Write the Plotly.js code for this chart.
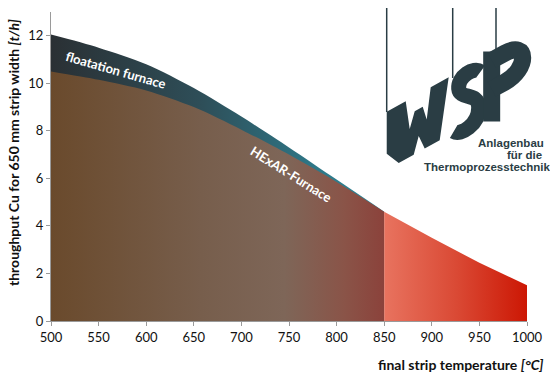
<!DOCTYPE html>
<html>
<head>
<meta charset="utf-8">
<script src="https://cdn.plot.ly/plotly-3.0.1.min.js"></script>
<style>html,body{margin:0;padding:0;background:#fff;}#chart{width:550px;height:375px;}</style>
</head>
<body>
<div id="chart"></div>
<script>
// ---- data ----
const temps = [500, 550, 600, 650, 700, 750, 800, 850];
const floatationThroughput = [12.05, 11.5, 10.8, 9.8, 8.6, 7.3, 5.95, 4.6];
const hexarThroughput = [10.5, 10.15, 9.7, 9.0, 8.05, 7.0, 5.85, 4.6];
const hotTemps = [850, 900, 950, 1000];
const hotThroughput = [4.6, 3.5, 2.45, 1.5];
const xTicks = [500, 550, 600, 650, 700, 750, 800, 850, 900, 950, 1000];
const yTicks = [0, 2, 4, 6, 8, 10, 12];

// ---- geometry helpers (pixel -> paper) ----
const L = 51, R = 23, T = 12, B = 54, W = 550, H = 375;
const pw = W - L - R, ph = H - T - B;
function px2x(px) { return (px - L) / pw; }
function py2y(py) { return (H - B - py) / ph; }
function sh(u, v) {
  const px = 386.7 + u, py = 111.7 + v - 0.555 * u;
  return px2x(px).toFixed(4) + ',' + py2y(py).toFixed(4);
}
function poly(pts) {
  return 'M' + pts.map(p => sh(p[0], p[1])).join(' L') + ' Z';
}
const logoColor = '#2a3d44';

const traces = [
  {
    x: temps, y: floatationThroughput, type: 'scatter', mode: 'lines',
    line: {width: 0, shape: 'spline', smoothing: 0.8}, fill: 'tozeroy',
    fillgradient: {type: 'horizontal', start: 500, stop: 850,
      colorscale: [[0, '#2a3034'], [0.45, '#2e4e58'], [0.8, '#2e7888'], [1, '#2f8595']]},
    hoverinfo: 'skip', showlegend: false
  },
  {
    x: temps, y: hexarThroughput, type: 'scatter', mode: 'lines',
    line: {width: 0, shape: 'spline', smoothing: 0.8}, fill: 'tozeroy',
    fillgradient: {type: 'horizontal', start: 500, stop: 850,
      colorscale: [[0, '#6a4a2c'], [0.45, '#775e4c'], [0.7, '#7e6658'], [0.88, '#8a5448'], [1, '#8b423b']]},
    hoverinfo: 'skip', showlegend: false
  },
  {
    x: hotTemps, y: hotThroughput, type: 'scatter', mode: 'lines',
    line: {width: 0}, fill: 'tozeroy',
    fillgradient: {type: 'horizontal', start: 850, stop: 1000,
      colorscale: [[0, '#e8735f'], [0.5, '#da4a35'], [1, '#cc1704']]},
    hoverinfo: 'skip', showlegend: false
  }
];

const wOutline = [[0, 0], [19, 0], [23, 30], [28, 15], [36, 15], [40, 30], [44, 0], [62, 0], [53, 58], [38, 58], [32, 42], [27, 58], [12, 58], [0, 42]];

const shapes = [
  {type: 'line', xref: 'paper', yref: 'paper', x0: px2x(386.7), x1: px2x(386.7), y0: py2y(8), y1: py2y(112), line: {color: logoColor, width: 1.5}},
  {type: 'line', xref: 'paper', yref: 'paper', x0: px2x(452.7), x1: px2x(452.7), y0: py2y(8), y1: py2y(78), line: {color: logoColor, width: 1.5}},
  {type: 'line', xref: 'paper', yref: 'paper', x0: px2x(496), x1: px2x(496), y0: py2y(8), y1: py2y(56), line: {color: logoColor, width: 1.5}},
  // W (filled polygon)
  {type: 'path', xref: 'paper', yref: 'paper', path: poly(wOutline), fillcolor: logoColor, line: {width: 0}},
  // S
  {type: 'path', xref: 'paper', yref: 'paper', path: 'M' + sh(94, 12) + ' C' + sh(87, 3) + ' ' + sh(71, 4) + ' ' + sh(72, 17) + ' C' + sh(73, 29) + ' ' + sh(92, 31) + ' ' + sh(92, 47) + ' C' + sh(92, 64) + ' ' + sh(74, 65) + ' ' + sh(67, 57), line: {color: logoColor, width: 15}},
  // P stem
  {type: 'path', xref: 'paper', yref: 'paper', path: 'M' + sh(105, -2) + ' L' + sh(105, 68), line: {color: logoColor, width: 17}},
  // P bowl
  {type: 'path', xref: 'paper', yref: 'paper', path: 'M' + sh(105, 7) + ' L' + sh(118, 7) + ' C' + sh(142, 7) + ' ' + sh(142, 36) + ' ' + sh(118, 36) + ' L' + sh(105, 36), line: {color: logoColor, width: 17}}
];

const logoFont = {family: '"Liberation Sans Narrow", "Liberation Sans", Arial, sans-serif', size: 11.5, color: logoColor, weight: 'bold'};
function logoLine(txt, cx, py) {
  return {xref: 'paper', yref: 'paper', x: px2x(cx), y: py2y(py), text: txt, showarrow: false,
    xanchor: 'center', yanchor: 'middle', font: logoFont};
}
const annotations = [
  {xref: 'paper', yref: 'paper', x: px2x(116), y: py2y(70), xanchor: 'center', yanchor: 'middle', text: '<b>floatation furnace</b>', showarrow: false, textangle: 16,
   font: {family: 'Lato, sans-serif', size: 13, color: '#ffffff'}},
  {xref: 'paper', yref: 'paper', x: px2x(291), y: py2y(174), xanchor: 'center', yanchor: 'middle', text: '<b>HExAR-Furnace</b>', showarrow: false, textangle: 32,
   font: {family: 'Lato, sans-serif', size: 13, color: '#ffffff'}},
  {xref: 'paper', yref: 'paper', x: px2x(13), y: py2y(153), text: '<b>throughput Cu for 650 mm strip width <i>[t/h]</i></b>', showarrow: false, textangle: -90,
   xanchor: 'center', yanchor: 'middle', font: {family: 'Lato, sans-serif', size: 14, color: '#111'}},
  {xref: 'paper', yref: 'paper', x: px2x(546), y: py2y(364), text: '<b>final strip temperature <i>[°C]</i></b>', showarrow: false,
   xanchor: 'right', yanchor: 'middle', font: {family: 'Lato, sans-serif', size: 14, color: '#111'}},
  logoLine('Anlagenbau', 511.2, 143.3),
  logoLine('für die', 524, 155),
  logoLine('Thermoprozesstechnik', 487.4, 166.7)
];

const layout = {
  width: W, height: H,
  margin: {l: L, r: R, t: T, b: B},
  paper_bgcolor: '#ffffff', plot_bgcolor: '#ffffff',
  showlegend: false,
  xaxis: {range: [500, 1000], tickvals: xTicks, ticktext: xTicks.map(String), showgrid: false, zeroline: false,
    showline: true, linecolor: '#9a9a9a', linewidth: 1, ticks: 'outside', ticklen: 4, tickcolor: '#9a9a9a',
    tickfont: {family: 'Lato, sans-serif', size: 13, color: '#111'}, fixedrange: true},
  yaxis: {range: [0, 13], tickvals: yTicks, ticktext: yTicks.map(String), showgrid: false, zeroline: false,
    showline: true, linecolor: '#9a9a9a', linewidth: 1, ticks: 'outside', ticklen: 4, tickcolor: '#9a9a9a',
    tickfont: {family: 'Lato, sans-serif', size: 13, color: '#111'}, fixedrange: true},
  shapes: shapes,
  annotations: annotations
};

Plotly.newPlot('chart', traces, layout, {displayModeBar: false, staticPlot: true});
</script>
</body>
</html>
